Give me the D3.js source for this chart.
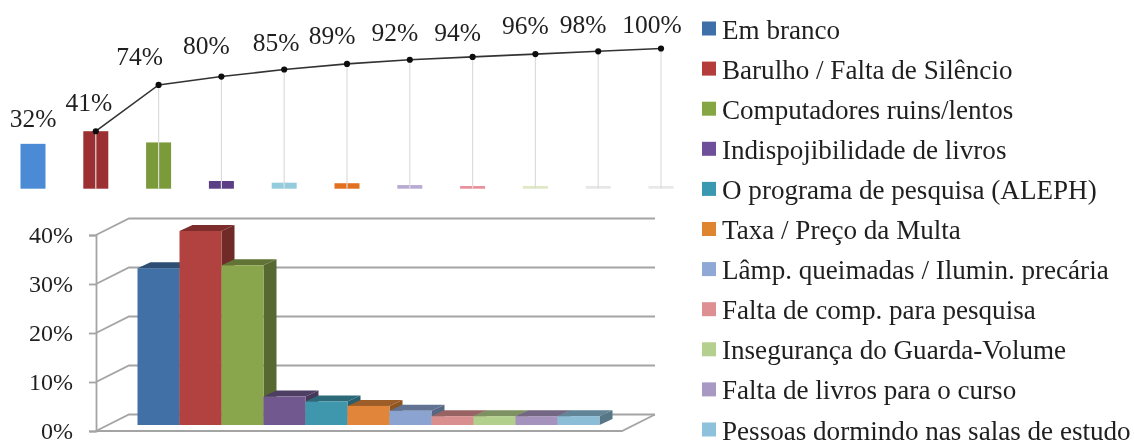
<!DOCTYPE html>
<html>
<head>
<meta charset="utf-8">
<script src="https://cdn.jsdelivr.net/npm/d3@7"></script>
<style>
  html, body { margin: 0; padding: 0; background: #fff; overflow: hidden; }
  svg { display: block; filter: blur(0.45px); }
  text { font-family: "Liberation Serif", serif; fill: #1f1f1f; }
</style>
</head>
<body>
<div id="chart"></div>
<script>
const categories = [
  "Em branco", "Barulho / Falta de Silêncio", "Computadores ruins/lentos",
  "Indispojibilidade de livros", "O programa de pesquisa (ALEPH)", "Taxa / Preço da Multa",
  "Lâmp. queimadas / Ilumin. precária", "Falta de comp. para pesquisa",
  "Insegurança do Guarda-Volume", "Falta de livros para o curso",
  "Pessoas dormindo nas salas de estudo"
];
// share of answers, 3D chart below
const shares3d = [32, 39.6, 32.6, 5.8, 4.8, 3.9, 2.9, 1.8, 1.8, 1.8, 1.8];
// same shares as the small bars on top
const sharesTop = [32, 41, 33, 5.5, 4.3, 3.9, 2.6, 1.9, 1.9, 1.9, 1.9];
// cumulative line, first category has no point
const cumulative = [null, 41, 74, 80, 85, 89, 92, 94, 96, 98, 100];
const cumulativeLabels = ["32%", "41%", "74%", "80%", "85%", "89%", "92%", "94%", "96%", "98%", "100%"];
const axisTicks = [0, 10, 20, 30, 40];

const colors3d = ["#4170a6", "#b2423f", "#8aa64c", "#71588f", "#3f97ae", "#e0853a", "#8aa3d0", "#d98f8d", "#b3cf8c", "#a593bd", "#8bbdd6"];
const colorsTop = ["#4b8bd6", "#9c2f31", "#7b9a3a", "#5a3f87", "#93cddd", "#e2701c", "#b9aad3", "#ea8f9a", "#dfe8c4", "#e6e6e6", "#e8e8e8"];
const legendColors = ["#3f6fa8", "#b43c3a", "#86a644", "#6f4f99", "#3a98b0", "#e0852f", "#8fa8d6", "#dd8f92", "#b5cf8f", "#a898c4", "#8ec2dc"];

// hand placement of the percent labels, relative to the centre of the category / the base
const labelDx = [0, -7, -19, -15, -8, -15, -15, -15, -10, -15, -9];
const labelY = [127, 111, 64.5, 54, 50.5, 43.5, 40.7, 40.7, 34, 32.7, 32.7];

const width = 1134, height = 441;
const depthX = 13, depthY = 6;       // depth of a 3D bar
const wallX = 33, wallY = 16.5;      // depth of the chart floor
const gridRight = 655, floorRight = 622;

const svg = d3.select("#chart").append("svg")
    .attr("width", width)
    .attr("height", height);

// ##################################################################
// # Top chart: small bars and cumulative line
// ##################################################################

const xTop = d3.scalePoint().domain(categories).range([33, 661]);
const yTop = d3.scaleLinear().domain([0, 100]).range([188.7, 48.5]);
const topBarWidth = 25;

svg.append("g").selectAll("rect")
    .data(categories)
    .join("rect")
    .attr("x", d => xTop(d) - topBarWidth / 2)
    .attr("y", (d, i) => yTop(sharesTop[i]))
    .attr("width", topBarWidth)
    .attr("height", (d, i) => yTop(0) - yTop(sharesTop[i]))
    .attr("fill", (d, i) => colorsTop[i]);

const linePoints = categories
    .map((d, i) => ({cat: d, value: cumulative[i]}))
    .filter(d => d.value !== null);

svg.append("g").selectAll("line")
    .data(linePoints)
    .join("line")
    .attr("x1", d => xTop(d.cat))
    .attr("x2", d => xTop(d.cat))
    .attr("y1", d => yTop(d.value))
    .attr("y2", yTop(0))
    .attr("stroke", "#dcdcdc")
    .attr("stroke-width", 1.2);

svg.append("path")
    .datum(linePoints)
    .attr("fill", "none")
    .attr("stroke", "#333")
    .attr("stroke-width", 1.6)
    .attr("d", d3.line().x(d => xTop(d.cat)).y(d => yTop(d.value)));

svg.append("g").selectAll("path")
    .data(linePoints)
    .join("path")
    .attr("d", d3.symbol(d3.symbolCircle, 30))
    .attr("transform", d => "translate(" + xTop(d.cat) + "," + yTop(d.value) + ")")
    .attr("fill", "#0d0d0d");

svg.append("g").selectAll("text")
    .data(categories)
    .join("text")
    .attr("x", (d, i) => xTop(d) + labelDx[i])
    .attr("y", (d, i) => labelY[i])
    .attr("text-anchor", "middle")
    .attr("font-size", 25.5)
    .text((d, i) => cumulativeLabels[i]);

// ##################################################################
// # Bottom chart: 3D columns
// ##################################################################

const yAxis = d3.scaleLinear().domain([0, 40]).range([431, 235]);
const xBar = d3.scaleBand().domain(categories).range([137.5, 599.5]);
const yBar = d3.scaleLinear().domain([0, 40]).range([425, 229]);
const gridColor = "#a4a4a4";

// back wall grid lines
const grid = svg.append("g")
    .attr("fill", "none")
    .attr("stroke", gridColor)
    .attr("stroke-width", 1.8);

grid.selectAll("path")
    .data(axisTicks)
    .join("path")
    .attr("d", d => {
      const p = d3.path();
      p.moveTo(96, yAxis(d));
      p.lineTo(96 + wallX, yAxis(d) - wallY);
      p.lineTo(gridRight, yAxis(d) - wallY);
      return p.toString();
    });

// floor, front edge and right edge
const floor = d3.path();
floor.moveTo(96, yAxis(0));
floor.lineTo(floorRight, yAxis(0));
floor.lineTo(gridRight, yAxis(0) - wallY);
grid.append("path").attr("d", floor.toString());

const axis = svg.append("g")
    .attr("transform", "translate(96,0)")
    .call(d3.axisLeft(yAxis)
      .tickValues(axisTicks)
      .tickSize(7)
      .tickPadding(16)
      .tickFormat(d => d + "%"));

axis.selectAll("line, path").attr("stroke", gridColor).attr("stroke-width", 1.8);
axis.selectAll("text")
    .attr("font-size", 24)
    .attr("font-family", '"Liberation Serif", serif')
    .attr("dy", "0.3em")
    .attr("fill", "#1f1f1f");

function poly(points) {
  return d3.line()(points) + "Z";
}

const bars = svg.append("g").selectAll("g")
    .data(categories)
    .join("g");

// side face
bars.append("path")
    .attr("d", (d, i) => {
      const x1 = xBar(d) + xBar.bandwidth(), top = yBar(shares3d[i]), base = yBar(0);
      return poly([[x1, top], [x1 + depthX, top - depthY], [x1 + depthX, base - depthY], [x1, base]]);
    })
    .attr("fill", (d, i) => d3.color(colors3d[i]).darker(1.3));

// top face
bars.append("path")
    .attr("d", (d, i) => {
      const x0 = xBar(d), x1 = x0 + xBar.bandwidth(), top = yBar(shares3d[i]);
      return poly([[x0, top], [x0 + depthX, top - depthY], [x1 + depthX, top - depthY], [x1, top]]);
    })
    .attr("fill", (d, i) => d3.color(colors3d[i]).darker(1));

// front face
bars.append("rect")
    .attr("x", d => xBar(d))
    .attr("y", (d, i) => yBar(shares3d[i]))
    .attr("width", xBar.bandwidth())
    .attr("height", (d, i) => yBar(0) - yBar(shares3d[i]))
    .attr("fill", (d, i) => colors3d[i]);

// ##################################################################
// # Legend
// ##################################################################

const yLegend = d3.scalePoint().domain(categories).range([28.5, 429.5]);

const legend = svg.append("g").selectAll("g")
    .data(categories)
    .join("g")
    .attr("transform", d => "translate(0," + yLegend(d) + ")");

legend.append("rect")
    .attr("x", 702)
    .attr("y", -7)
    .attr("width", 14)
    .attr("height", 14)
    .attr("fill", (d, i) => legendColors[i]);

legend.append("text")
    .attr("x", 722)
    .attr("y", 10)
    .attr("font-size", 27.1)
    .text(d => d);
</script>
</body>
</html>
